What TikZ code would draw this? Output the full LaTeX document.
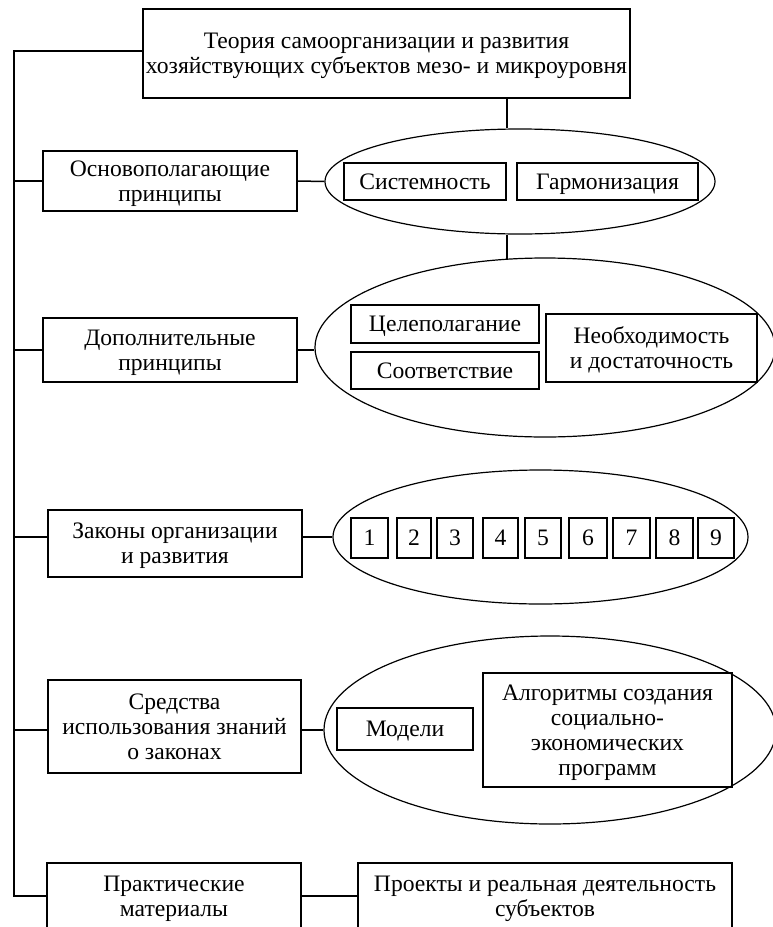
\documentclass[tikz,border=0pt]{standalone}
\usepackage{fontspec}
\setmainfont{Liberation Serif}
\usetikzlibrary{shapes.geometric,calc}
\begin{document}
\begin{tikzpicture}[x=1pt,y=-1pt,
  every node/.style={font=\fontsize{23.6}{25}\selectfont},
  bx/.style={draw,line width=1.5pt,rectangle,inner sep=0pt,align=center,text depth=0pt},
  one/.style={text height=15.6pt},
  ell/.style={draw,line width=1.2pt,ellipse,inner sep=0pt},
  ln/.style={line width=1.5pt}]
\useasboundingbox (0,0) rectangle (773,927);
\clip (0,0) rectangle (773,927);
% ellipses
\node[ell,minimum width=390,minimum height=105] (e1) at (520,181.5) {};
\node[ell,minimum width=460,minimum height=179] (e2) at (545,347.5) {};
\node[ell,minimum width=415,minimum height=134] (e3) at (540.5,537) {};
\node[ell,minimum width=452,minimum height=188] (e4) at (550,730) {};
% main boxes
\node[bx,minimum width=487,minimum height=89] (top) at (386.5,53.5) {Теория самоорганизации и развития\\хозяйствующих субъектов мезо- и микроуровня};
\node[bx,minimum width=254,minimum height=60] (osn) at (170,181) {Основополагающие\\принципы};
\node[bx,minimum width=254,minimum height=64] (dop) at (170,350) {Дополнительные\\принципы};
\node[bx,minimum width=254,minimum height=67] (zak) at (175,543.5) {Законы организации\\и развития};
\node[bx,minimum width=253,minimum height=93] (sred) at (174.5,726.5) {Средства\\использования знаний\\о законах};
\node[bx,minimum width=254,minimum height=66] (prak) at (174,896) {Практические\\материалы};
\node[bx,minimum width=374,minimum height=66] (proj) at (545,896) {Проекты и реальная деятельность\\субъектов};
% inner boxes
\node[bx,one,minimum width=162,minimum height=37] (sys) at (425,181.5) {Системность};
\node[bx,one,minimum width=181,minimum height=37] (garm) at (607.5,181.5) {Гармонизация};
\node[bx,one,minimum width=188,minimum height=38] (tsel) at (445,324) {Целеполагание};
\node[bx,one,minimum width=188,minimum height=37] (soot) at (445,370.5) {Соответствие};
\node[bx,minimum width=211,minimum height=68] (neob) at (651.5,348) {Необходимость\\и достаточность};
\node[bx,one,minimum width=37,minimum height=40] (n1) at (369.5,538) {1};
\node[bx,one,minimum width=34,minimum height=40] (n2) at (414,538) {2};
\node[bx,one,minimum width=36,minimum height=40] (n3) at (455,538) {3};
\node[bx,one,minimum width=35,minimum height=40] (n4) at (500.5,538) {4};
\node[bx,one,minimum width=36,minimum height=40] (n5) at (543,538) {5};
\node[bx,one,minimum width=38,minimum height=40] (n6) at (588,538) {6};
\node[bx,one,minimum width=37,minimum height=40] (n7) at (631.5,538) {7};
\node[bx,one,minimum width=37,minimum height=40] (n8) at (674.5,538) {8};
\node[bx,one,minimum width=36,minimum height=40] (n9) at (716,538) {9};
\node[bx,one,minimum width=136,minimum height=42] (model) at (405,729) {Модели};
\node[bx,minimum width=249,minimum height=114] (algo) at (607.5,730) {Алгоритмы создания\\социально-\\экономических\\программ};
% trunk
\coordinate (tA) at (14,51);
\coordinate (tB) at (14,896);
\draw[ln] (top.west |- tA) -- (tA) -- (tB) -- (prak.west |- tB);
\draw[ln] (osn.west -| tA) -- (osn.west);
\draw[ln] (dop.west -| tA) -- (dop.west);
\draw[ln] (e3.west -| tA) -- (e3.west -| zak.west);
\draw[ln] (e4.west -| tA) -- (e4.west -| sred.west);
% right connectors
\draw[ln] (osn.east) -- (e1.west);
\draw[ln] (dop.east) -- (dop.east -| e2.west);
\draw[ln] (e3.west -| zak.east) -- (e3.west);
\draw[ln] (e4.west -| sred.east) -- (e4.west);
\draw[ln] (prak.east) -- (proj.west);
\draw[ln] (top.south -| sys.east) -- (e1.north -| sys.east);
\draw[ln] (e1.south -| sys.east) -- ($(e2.north -| sys.east)+(0,1.3)$);
\end{tikzpicture}
\end{document}
